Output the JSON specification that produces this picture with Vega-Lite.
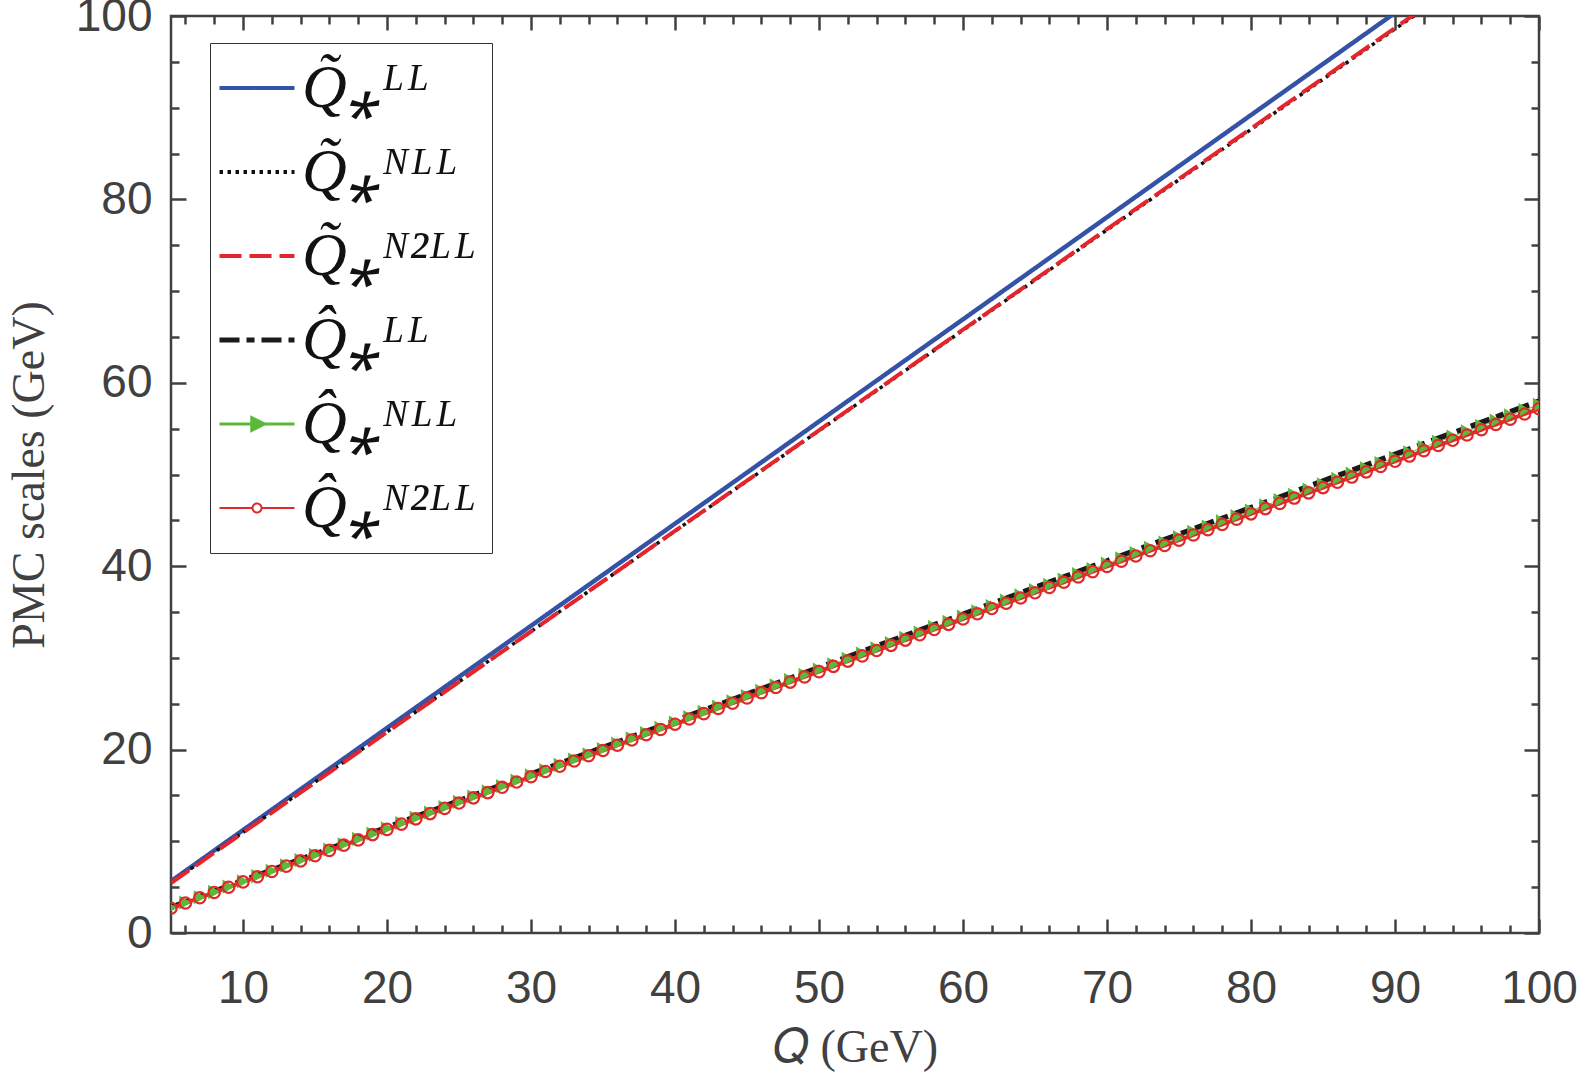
{
  "$schema": "https://vega.github.io/schema/vega-lite/v6.json",
  "width": 1368,
  "height": 917,
  "autosize": {"type": "none"},
  "padding": {"left": 171, "top": 16, "right": 40, "bottom": 142},
  "background": "white",
  "config": {
    "view": {"stroke": "#404040", "strokeWidth": 2.5},
    "axis": {
      "grid": false,
      "domain": false,
      "tickColor": "#404040",
      "tickWidth": 2.5,
      "labelFont": "Liberation Sans",
      "labelFontSize": 46,
      "labelColor": "#404040",
      "titleFont": "Liberation Serif",
      "titleFontSize": 46,
      "titleFontWeight": "normal",
      "titleColor": "#404040"
    },
    "legend": {
      "orient": "none",
      "legendX": 39,
      "legendY": 27,
      "strokeColor": "#333333",
      "fillColor": "white",
      "padding": 14,
      "symbolOffset": 2,
      "symbolSize": 5625,
      "labelFont": "Liberation Serif",
      "labelFontStyle": "italic",
      "labelFontSize": 62,
      "labelColor": "#111111",
      "labelOffset": 14,
      "labelLimit": 400,
      "rowPadding": 22,
      "title": null
    }
  },
  "datasets": {
    "coarse": [
      {"Q": 5, "a": 5.65, "b": 5.5, "c": 5.45, "d": 2.8},
      {"Q": 10, "a": 11.22, "b": 10.98, "c": 10.94, "d": 5.71},
      {"Q": 15, "a": 16.79, "b": 16.45, "c": 16.42, "d": 8.61},
      {"Q": 20, "a": 22.36, "b": 21.93, "c": 21.91, "d": 11.52},
      {"Q": 25, "a": 27.93, "b": 27.4, "c": 27.39, "d": 14.42},
      {"Q": 30, "a": 33.5, "b": 32.88, "c": 32.88, "d": 17.33},
      {"Q": 35, "a": 39.07, "b": 38.35, "c": 38.36, "d": 20.23},
      {"Q": 40, "a": 44.64, "b": 43.83, "c": 43.85, "d": 23.14},
      {"Q": 45, "a": 50.21, "b": 49.3, "c": 49.33, "d": 26.04},
      {"Q": 50, "a": 55.78, "b": 54.78, "c": 54.82, "d": 28.95},
      {"Q": 55, "a": 61.35, "b": 60.25, "c": 60.3, "d": 31.86},
      {"Q": 60, "a": 66.92, "b": 65.73, "c": 65.79, "d": 34.76},
      {"Q": 65, "a": 72.49, "b": 71.2, "c": 71.27, "d": 37.67},
      {"Q": 70, "a": 78.06, "b": 76.68, "c": 76.76, "d": 40.57},
      {"Q": 75, "a": 83.63, "b": 82.15, "c": 82.24, "d": 43.48},
      {"Q": 80, "a": 89.2, "b": 87.63, "c": 87.73, "d": 46.38},
      {"Q": 85, "a": 94.77, "b": 93.1, "c": 93.21, "d": 49.29},
      {"Q": 90, "a": 100.34, "b": 98.58, "c": 98.7, "d": 52.19},
      {"Q": 95, "a": 105.91, "b": 104.05, "c": 104.18, "d": 55.1},
      {"Q": 100, "a": 111.48, "b": 109.53, "c": 109.67, "d": 58.0}
    ],
    "fine": [
      {"Q": 5, "e": 2.75, "f": 2.7}, {"Q": 6, "e": 3.33, "f": 3.27}, {"Q": 7, "e": 3.9, "f": 3.85},
      {"Q": 8, "e": 4.48, "f": 4.42}, {"Q": 9, "e": 5.06, "f": 4.99}, {"Q": 10, "e": 5.64, "f": 5.57},
      {"Q": 11, "e": 6.21, "f": 6.14}, {"Q": 12, "e": 6.79, "f": 6.71}, {"Q": 13, "e": 7.37, "f": 7.29},
      {"Q": 14, "e": 7.95, "f": 7.86}, {"Q": 15, "e": 8.52, "f": 8.43}, {"Q": 16, "e": 9.1, "f": 9.01},
      {"Q": 17, "e": 9.68, "f": 9.58}, {"Q": 18, "e": 10.26, "f": 10.15}, {"Q": 19, "e": 10.83, "f": 10.73},
      {"Q": 20, "e": 11.41, "f": 11.3}, {"Q": 21, "e": 11.99, "f": 11.87}, {"Q": 22, "e": 12.57, "f": 12.45},
      {"Q": 23, "e": 13.14, "f": 13.02}, {"Q": 24, "e": 13.72, "f": 13.59}, {"Q": 25, "e": 14.3, "f": 14.17},
      {"Q": 26, "e": 14.88, "f": 14.74}, {"Q": 27, "e": 15.45, "f": 15.31}, {"Q": 28, "e": 16.03, "f": 15.89},
      {"Q": 29, "e": 16.61, "f": 16.46}, {"Q": 30, "e": 17.19, "f": 17.04}, {"Q": 31, "e": 17.76, "f": 17.61},
      {"Q": 32, "e": 18.34, "f": 18.18}, {"Q": 33, "e": 18.92, "f": 18.76}, {"Q": 34, "e": 19.49, "f": 19.33},
      {"Q": 35, "e": 20.07, "f": 19.9}, {"Q": 36, "e": 20.65, "f": 20.48}, {"Q": 37, "e": 21.23, "f": 21.05},
      {"Q": 38, "e": 21.8, "f": 21.62}, {"Q": 39, "e": 22.38, "f": 22.2}, {"Q": 40, "e": 22.96, "f": 22.77},
      {"Q": 41, "e": 23.54, "f": 23.34}, {"Q": 42, "e": 24.11, "f": 23.92}, {"Q": 43, "e": 24.69, "f": 24.49},
      {"Q": 44, "e": 25.27, "f": 25.06}, {"Q": 45, "e": 25.85, "f": 25.64}, {"Q": 46, "e": 26.42, "f": 26.21},
      {"Q": 47, "e": 27.0, "f": 26.78}, {"Q": 48, "e": 27.58, "f": 27.36}, {"Q": 49, "e": 28.16, "f": 27.93},
      {"Q": 50, "e": 28.73, "f": 28.5}, {"Q": 51, "e": 29.31, "f": 29.08}, {"Q": 52, "e": 29.89, "f": 29.65},
      {"Q": 53, "e": 30.47, "f": 30.22}, {"Q": 54, "e": 31.04, "f": 30.8}, {"Q": 55, "e": 31.62, "f": 31.37},
      {"Q": 56, "e": 32.2, "f": 31.94}, {"Q": 57, "e": 32.77, "f": 32.52}, {"Q": 58, "e": 33.35, "f": 33.09},
      {"Q": 59, "e": 33.93, "f": 33.66}, {"Q": 60, "e": 34.51, "f": 34.24}, {"Q": 61, "e": 35.08, "f": 34.81},
      {"Q": 62, "e": 35.66, "f": 35.38}, {"Q": 63, "e": 36.24, "f": 35.96}, {"Q": 64, "e": 36.82, "f": 36.53},
      {"Q": 65, "e": 37.39, "f": 37.1}, {"Q": 66, "e": 37.97, "f": 37.68}, {"Q": 67, "e": 38.55, "f": 38.25},
      {"Q": 68, "e": 39.13, "f": 38.82}, {"Q": 69, "e": 39.7, "f": 39.4}, {"Q": 70, "e": 40.28, "f": 39.97},
      {"Q": 71, "e": 40.86, "f": 40.54}, {"Q": 72, "e": 41.44, "f": 41.12}, {"Q": 73, "e": 42.01, "f": 41.69},
      {"Q": 74, "e": 42.59, "f": 42.26}, {"Q": 75, "e": 43.17, "f": 42.84}, {"Q": 76, "e": 43.75, "f": 43.41},
      {"Q": 77, "e": 44.32, "f": 43.98}, {"Q": 78, "e": 44.9, "f": 44.56}, {"Q": 79, "e": 45.48, "f": 45.13},
      {"Q": 80, "e": 46.06, "f": 45.71}, {"Q": 81, "e": 46.63, "f": 46.28}, {"Q": 82, "e": 47.21, "f": 46.85},
      {"Q": 83, "e": 47.79, "f": 47.43}, {"Q": 84, "e": 48.36, "f": 48.0}, {"Q": 85, "e": 48.94, "f": 48.57},
      {"Q": 86, "e": 49.52, "f": 49.15}, {"Q": 87, "e": 50.1, "f": 49.72}, {"Q": 88, "e": 50.67, "f": 50.29},
      {"Q": 89, "e": 51.25, "f": 50.87}, {"Q": 90, "e": 51.83, "f": 51.44}, {"Q": 91, "e": 52.41, "f": 52.01},
      {"Q": 92, "e": 52.98, "f": 52.59}, {"Q": 93, "e": 53.56, "f": 53.16}, {"Q": 94, "e": 54.14, "f": 53.73},
      {"Q": 95, "e": 54.72, "f": 54.31}, {"Q": 96, "e": 55.29, "f": 54.88}, {"Q": 97, "e": 55.87, "f": 55.45},
      {"Q": 98, "e": 56.45, "f": 56.03}, {"Q": 99, "e": 57.03, "f": 56.6}, {"Q": 100, "e": 57.6, "f": 57.17}
    ]
  },
  "layer": [
    {
      "data": {"name": "coarse"},
      "transform": [{"fold": ["a", "b", "c", "d"], "as": ["s", "v"]}],
      "mark": {"type": "line", "clip": true},
      "encoding": {
        "x": {
          "field": "Q", "type": "quantitative",
          "scale": {"domain": [5, 100], "nice": false, "zero": false},
          "axis": {
            "orient": "bottom",
            "values": [6, 8, 10, 12, 14, 16, 18, 20, 22, 24, 26, 28, 30, 32, 34, 36, 38, 40, 42, 44, 46, 48, 50, 52, 54, 56, 58, 60, 62, 64, 66, 68, 70, 72, 74, 76, 78, 80, 82, 84, 86, 88, 90, 92, 94, 96, 98, 100],
            "labelExpr": "datum.value % 10 === 0 ? datum.label : ''",
            "tickSize": {"condition": {"test": "datum.value % 10 === 0", "value": -14}, "value": -8},
            "labelPadding": 47,
            "labelFlush": false,
            "title": "𝑄 (GeV)",
            "titlePadding": 14
          }
        },
        "y": {
          "field": "v", "type": "quantitative",
          "scale": {"domain": [0, 100], "nice": false},
          "axis": {
            "orient": "left",
            "values": [0, 5, 10, 15, 20, 25, 30, 35, 40, 45, 50, 55, 60, 65, 70, 75, 80, 85, 90, 95, 100],
            "labelExpr": "datum.value % 20 === 0 ? datum.label : ''",
            "tickSize": {"condition": {"test": "datum.value % 20 === 0", "value": -15}, "value": -8},
            "labelPadding": 34,
            "labelFlush": false,
            "title": "PMC scales (GeV)",
            "titlePadding": 22
          }
        },
        "color": {
          "field": "s", "type": "nominal",
          "scale": {"domain": ["a", "b", "c", "d", "e", "f"], "range": ["#3453a6", "#111111", "#e4262c", "#1a1a1a", "#5cb83b", "#e02a2a"]},
          "legend": {
            "labelExpr": "{'a':'Q̃⁎ᴸᴸ','b':'Q̃⁎ᴺᴸᴸ','c':'Q̃⁎ᴺ²ᴸᴸ','d':'Q̂⁎ᴸᴸ','e':'Q̂⁎ᴺᴸᴸ','f':'Q̂⁎ᴺ²ᴸᴸ'}[datum.label]",
            "encode": {
              "symbols": {
                "update": {
                  "shape": {"signal": "datum.value === 'e' ? 'M-1,0H1M-0.14,-0.17L0.2,0L-0.14,0.17Z' : datum.value === 'f' ? 'M-1,0H-0.12M0.12,0H1M-0.12,0A0.12,0.12,0,1,1,0.12,0A0.12,0.12,0,1,1,-0.12,0Z' : 'M-1,0H1'"},
                  "strokeDash": {"signal": "datum.value === 'b' ? [3.5, 4.5] : datum.value === 'c' ? [22, 8] : datum.value === 'd' ? [20, 7, 8, 7] : [1, 0]"},
                  "strokeWidth": {"signal": "datum.value === 'd' ? 5 : datum.value === 'e' ? 3 : datum.value === 'f' ? 2 : 4"},
                  "fill": {"signal": "datum.value === 'e' ? '#5cb83b' : 'transparent'"},
                  "size": {"value": 5625},
                  "opacity": {"value": 1}
                }
              }
            }
          }
        },
        "strokeDash": {
          "field": "s", "type": "nominal",
          "scale": {"domain": ["a", "b", "c", "d", "e", "f"], "range": [[1, 0], [3.5, 4.5], [22, 8], [20, 7, 8, 7], [1, 0], [1, 0]]},
          "legend": null
        },
        "strokeWidth": {
          "field": "s", "type": "ordinal",
          "scale": {"type": "ordinal", "domain": ["a", "b", "c", "d", "e", "f"], "range": [4.5, 3.5, 4, 5.5, 3, 2]},
          "legend": null
        }
      }
    },
    {
      "data": {"name": "fine"},
      "transform": [{"fold": ["e", "f"], "as": ["s", "v"]}],
      "mark": {"type": "line", "clip": true},
      "encoding": {
        "x": {"field": "Q", "type": "quantitative", "axis": null},
        "y": {"field": "v", "type": "quantitative", "axis": null},
        "color": {"field": "s", "type": "nominal"},
        "strokeDash": {"field": "s", "type": "nominal", "legend": null},
        "strokeWidth": {"field": "s", "type": "ordinal", "legend": null}
      }
    },
    {
      "data": {"name": "fine"},
      "transform": [{"fold": ["e"], "as": ["s", "v"]}],
      "mark": {"type": "point", "shape": "triangle-right", "filled": true, "color": "#5cb83b", "size": 200, "opacity": 1, "clip": true},
      "encoding": {
        "x": {
          "field": "Q", "type": "quantitative",
          "axis": {
            "orient": "top",
            "values": [6, 8, 10, 12, 14, 16, 18, 20, 22, 24, 26, 28, 30, 32, 34, 36, 38, 40, 42, 44, 46, 48, 50, 52, 54, 56, 58, 60, 62, 64, 66, 68, 70, 72, 74, 76, 78, 80, 82, 84, 86, 88, 90, 92, 94, 96, 98, 100],
            "labels": false,
            "tickSize": {"condition": {"test": "datum.value % 10 === 0", "value": -14}, "value": -8},
            "title": null
          }
        },
        "y": {
          "field": "v", "type": "quantitative",
          "axis": {
            "orient": "right",
            "values": [0, 5, 10, 15, 20, 25, 30, 35, 40, 45, 50, 55, 60, 65, 70, 75, 80, 85, 90, 95, 100],
            "labels": false,
            "tickSize": {"condition": {"test": "datum.value % 20 === 0", "value": -15}, "value": -8},
            "title": null
          }
        }
      }
    },
    {
      "data": {"name": "fine"},
      "transform": [{"fold": ["f"], "as": ["s", "v"]}],
      "mark": {"type": "point", "shape": "circle", "filled": false, "color": "#e02a2a", "strokeWidth": 2.2, "size": 130, "opacity": 1, "clip": true},
      "encoding": {
        "x": {"field": "Q", "type": "quantitative", "axis": null},
        "y": {"field": "v", "type": "quantitative", "axis": null}
      }
    }
  ],
  "resolve": {"axis": {"x": "independent", "y": "independent"}}
}
